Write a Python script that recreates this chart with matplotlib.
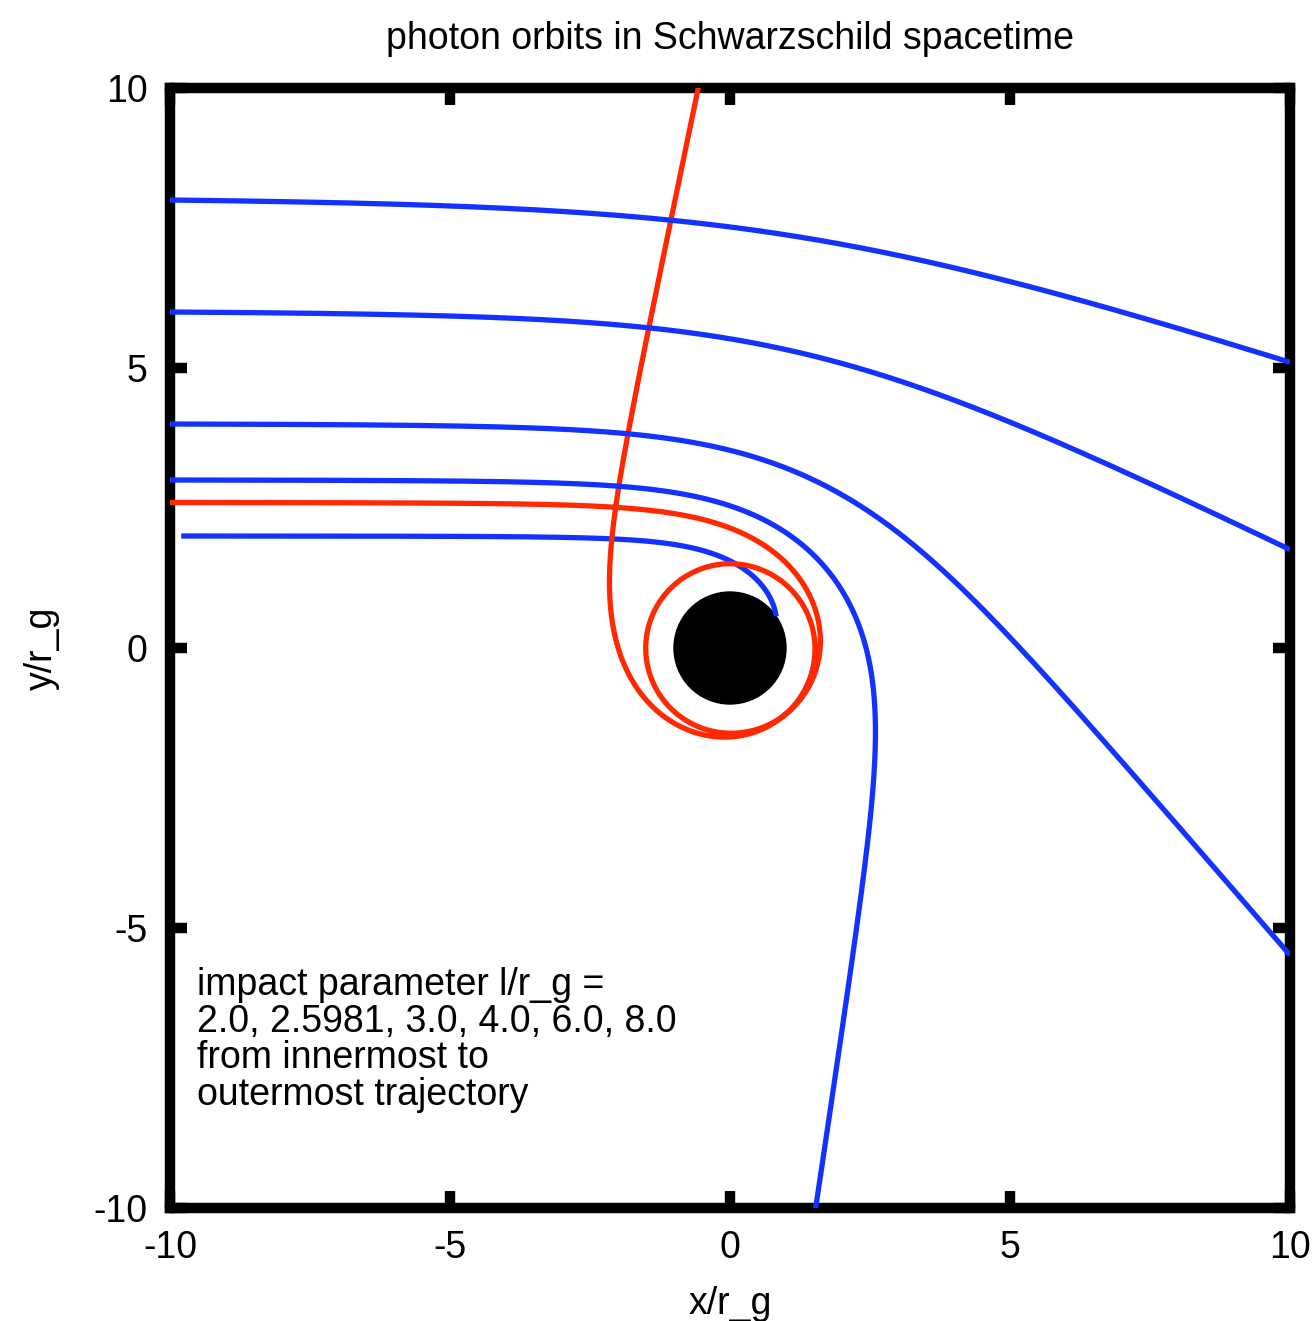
import numpy as np
import matplotlib.pyplot as plt
from matplotlib.patches import Circle

plt.rcParams["font.family"] = ["Liberation Sans", "DejaVu Sans"]

# impact parameters (units of r_g, horizon at r = 1, photon sphere at 1.5)
impact = [2.0, 2.5981, 3.0, 4.0, 6.0, 8.0]
x_start = [-9.8, -10.0, -10.0, -10.0, -10.0, -10.0]
colors = ["#1432ff", "#ff2800", "#1432ff", "#1432ff", "#1432ff", "#1432ff"]

ticks = [-10, -5, 0, 5, 10]
tick_labels = ["-10", "-5", "0", "5", "10"]


def orbit(b, x0, h=2e-4, r_max=30.0):
    # photon launched at (x0, b) heading in +x; integrate u'' + u = 1.5 u^2
    phi0 = np.arctan2(b, x0)
    u = 1.0 / np.hypot(x0, b)
    w = np.sqrt(max(1.0 / b**2 - u**2 + u**3, 0.0))

    def f(u, w):
        return w, 1.5 * u * u - u

    us, ps = [u], [0.0]
    psi = 0.0
    while True:
        k1 = f(u, w)
        k2 = f(u + 0.5 * h * k1[0], w + 0.5 * h * k1[1])
        k3 = f(u + 0.5 * h * k2[0], w + 0.5 * h * k2[1])
        k4 = f(u + h * k3[0], w + h * k3[1])
        u += h / 6 * (k1[0] + 2 * k2[0] + 2 * k3[0] + k4[0])
        w += h / 6 * (k1[1] + 2 * k2[1] + 2 * k3[1] + k4[1])
        psi += h
        if u >= 1.0:
            us.append(1.0)
            ps.append(psi)
            break
        if u <= 1.0 / r_max:
            break
        us.append(u)
        ps.append(psi)
    r = 1.0 / np.array(us)
    phi = phi0 - np.array(ps)
    return r * np.cos(phi), r * np.sin(phi)


fig = plt.figure(figsize=(13.14, 13.21), dpi=100)
ax = fig.add_axes([170 / 1314, 113 / 1321, 1120 / 1314, 1120 / 1321])

ax.add_patch(Circle((0, 0), 1.0, color="black", zorder=2))
for b, x0, c in zip(impact, x_start, colors):
    x, y = orbit(b, x0)
    ax.plot(x, y, color=c, lw=3.8, solid_capstyle="butt", zorder=3)

ax.set_xlim(-10, 10)
ax.set_ylim(-10, 10)
ax.set_xticks(ticks)
ax.set_xticklabels(tick_labels)
ax.set_yticks(ticks)
ax.set_yticklabels(tick_labels)
ax.tick_params(direction="in", top=True, right=True, length=12, width=7.5,
               labelsize=27, pad=16)
for s in ax.spines.values():
    s.set_linewidth(7.5)
    s.set_capstyle("projecting")

ax.set_xlabel("x/r_g", fontsize=27, labelpad=14)
ax.set_ylabel("y/r_g", fontsize=27, labelpad=24)
ax.set_title("photon orbits in Schwarzschild spacetime", fontsize=27, pad=28)

ax.text(-9.52, -5.7,
        "impact parameter l/r_g =\n2.0, 2.5981, 3.0, 4.0, 6.0, 8.0\n"
        "from innermost to\noutermost trajectory",
        fontsize=27, va="top", ha="left", linespacing=1.02)

fig.savefig("out.png", dpi=100)
